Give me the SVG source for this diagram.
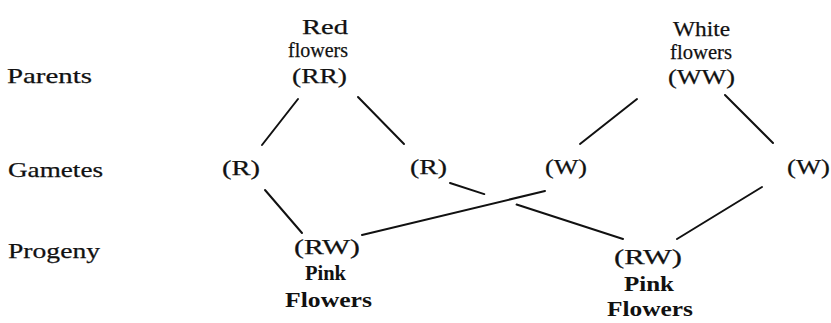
<svg xmlns="http://www.w3.org/2000/svg" width="831" height="323" viewBox="0 0 831 323">
<style>
text{font-family:"Liberation Serif","Times New Roman",serif;fill:#111;font-size:22px;stroke:#111;stroke-width:0.25}
.b{font-weight:bold;stroke-width:0}
.l{stroke:#111;stroke-width:2;fill:none;stroke-linecap:round}
</style>
<rect width="831" height="323" fill="#fff"/>
<g id="row-labels">
<text x="7" y="83" textLength="85" lengthAdjust="spacingAndGlyphs">Parents</text>
<text x="8" y="177" textLength="95" lengthAdjust="spacingAndGlyphs">Gametes</text>
<text x="8" y="258" textLength="92" lengthAdjust="spacingAndGlyphs">Progeny</text>
</g>
<g id="red-parent">
<text x="302" y="34" textLength="46" lengthAdjust="spacingAndGlyphs">Red</text>
<text x="288" y="57" textLength="60" lengthAdjust="spacingAndGlyphs">flowers</text>
<text x="292" y="83" textLength="55" lengthAdjust="spacingAndGlyphs">(RR)</text>
</g>
<g id="white-parent">
<text x="673" y="36" textLength="57" lengthAdjust="spacingAndGlyphs">White</text>
<text x="670" y="59" textLength="62" lengthAdjust="spacingAndGlyphs">flowers</text>
<text x="668" y="84" textLength="67" lengthAdjust="spacingAndGlyphs">(WW)</text>
</g>
<g id="gamete-r1"><text x="222" y="175" textLength="38" lengthAdjust="spacingAndGlyphs">(R)</text></g>
<g id="gamete-r2"><text x="410" y="174" textLength="37" lengthAdjust="spacingAndGlyphs">(R)</text></g>
<g id="gamete-w1"><text x="545" y="174" textLength="42" lengthAdjust="spacingAndGlyphs">(W)</text></g>
<g id="gamete-w2"><text x="787" y="174" textLength="43" lengthAdjust="spacingAndGlyphs">(W)</text></g>
<g id="progeny-1">
<text x="294" y="254" textLength="66" lengthAdjust="spacingAndGlyphs">(RW)</text>
<text x="305" y="280" class="b" textLength="41" lengthAdjust="spacingAndGlyphs">Pink</text>
<text x="285" y="307" class="b" textLength="87" lengthAdjust="spacingAndGlyphs">Flowers</text>
</g>
<g id="progeny-2">
<text x="614" y="264" textLength="68" lengthAdjust="spacingAndGlyphs">(RW)</text>
<text x="624" y="291" class="b" textLength="50" lengthAdjust="spacingAndGlyphs">Pink</text>
<text x="607" y="316" class="b" textLength="86" lengthAdjust="spacingAndGlyphs">Flowers</text>
</g>
<g id="connectors">
<line class="l" x1="298" y1="99" x2="262" y2="145"/>
<line class="l" x1="358" y1="97" x2="404" y2="144"/>
<line class="l" x1="637" y1="99" x2="580" y2="144"/>
<line class="l" x1="725" y1="95" x2="773" y2="143"/>
<line class="l" x1="265" y1="190" x2="302" y2="233"/>
<line class="l" x1="545" y1="191" x2="362" y2="235"/>
<line class="l" x1="450" y1="183" x2="623" y2="239" stroke-dasharray="36 34 200"/>
<line class="l" x1="762" y1="187" x2="677" y2="239"/>
</g>
</svg>
